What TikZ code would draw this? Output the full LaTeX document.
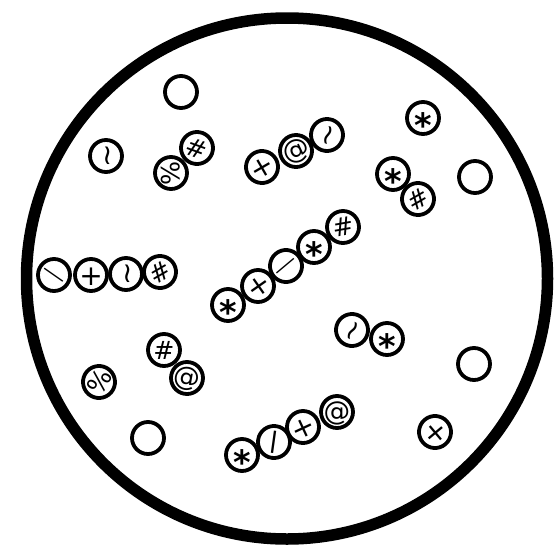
\documentclass[tikz,border=0pt]{standalone}
\usepackage{fontspec}
\setmainfont{DejaVu Sans}
\usepackage{graphicx}

% symbol centred on the node centre (height and depth hidden)
\newcommand\tokglyph[3]{\smash{\raisebox{#1}{\scalebox{#2}{#3}}}}

\begin{document}
\begin{tikzpicture}[
  x=1pt,
  y=-1pt,
  line join=round,
  line cap=round,
  rim/.style={draw=black,line width=11.5pt},
  tok/.style={circle,draw=black,line width=3.8pt,minimum size=32pt,inner sep=0pt,
    font=\fontsize{28}{28}\selectfont},
  blank/.style={tok}
]
  \useasboundingbox (0,0) rectangle (557,557);

  % The dish itself.
  \draw[rim] (287,278.5) circle[radius=260.5];

  % Empty beads.
  \node[blank] (blankA) at (181,92) {};
  \node[blank] (blankB) at (475,177) {};
  \node[blank] (blankC) at (148,438) {};
  \node[blank] (blankD) at (474,364) {};

  % Single beads.
  \node[tok,rotate=90] (tilA) at (106,156) {\tokglyph{-.36em}{1}{\textasciitilde}};
  \node[tok] (astA) at (423,118) {\tokglyph{-.71em}{1.2}{\bfseries *}};
  \node[tok,rotate=60] (pctB) at (99,382) {\tokglyph{-.33em}{.9}{\%}};
  \node[tok,rotate=40] (crossA) at (435,432) {\tokglyph{-.36em}{1}{+}};

  % Pairs.
  \node[tok,rotate=-90] (pctA) at (171,173) {\tokglyph{-.33em}{.9}{\%}};
  \node[tok,rotate=-20] (hashA) at (197,148) {\tokglyph{-.33em}{.9}{\#}};
  \node[tok] (astB) at (393,174) {\tokglyph{-.71em}{1.2}{\bfseries *}};
  \node[tok,rotate=30] (hashB) at (418,199) {\tokglyph{-.33em}{.9}{\#}};
  \node[tok] (hashC) at (164,350) {\tokglyph{-.33em}{.9}{\#}};
  \node[tok,rotate=-10] (atC) at (187,378) {\tokglyph{-.29em}{.95}{@}};
  \node[tok,rotate=60] (tilC) at (352,330) {\tokglyph{-.36em}{1}{\textasciitilde}};
  \node[tok] (astC) at (387,339) {\tokglyph{-.71em}{1.2}{\bfseries *}};

  % Short chain at the top.
  \node[tok,rotate=30] (plusB) at (262,167) {\tokglyph{-.36em}{1}{+}};
  \node[tok,rotate=25] (atB) at (296,151) {\tokglyph{-.29em}{.95}{@}};
  \node[tok,rotate=70] (tilB) at (327,135) {\tokglyph{-.36em}{1}{\textasciitilde}};

  % Chain on the left.
  \node[tok,rotate=-35] (dashL) at (54,275) {\tokglyph{-.2em}{.9}{\scalebox{1}[.8]{—}}};
  \node[tok] (plusL) at (91,275) {\tokglyph{-.36em}{1}{+}};
  \node[tok,rotate=90] (tilL) at (126,274) {\tokglyph{-.36em}{1}{\textasciitilde}};
  \node[tok,rotate=30] (hashL) at (160,272) {\tokglyph{-.33em}{.9}{\#}};

  % Long diagonal chain.
  \node[tok] (astD1) at (228,305) {\tokglyph{-.71em}{1.2}{\bfseries *}};
  \node[tok,rotate=35] (crossD) at (258,286) {\tokglyph{-.36em}{1}{+}};
  \node[tok,rotate=40] (dashD) at (286,266) {\tokglyph{-.2em}{.9}{\scalebox{1}[.8]{—}}};
  \node[tok] (astD2) at (314,247) {\tokglyph{-.71em}{1.2}{\bfseries *}};
  \node[tok,rotate=10] (hashD) at (343,227) {\tokglyph{-.33em}{.9}{\#}};

  % Chain at the bottom.
  \node[tok] (astE) at (242,455) {\tokglyph{-.71em}{1.2}{\bfseries *}};
  \node[tok,rotate=-8] (barE) at (274,442) {\tokglyph{-.21em}{1}{\scalebox{1}[.8]{|}}};
  \node[tok,rotate=25] (plusE) at (303,427) {\tokglyph{-.36em}{1}{+}};
  \node[tok] (atE) at (337,412) {\tokglyph{-.29em}{.95}{@}};
\end{tikzpicture}
\end{document}
